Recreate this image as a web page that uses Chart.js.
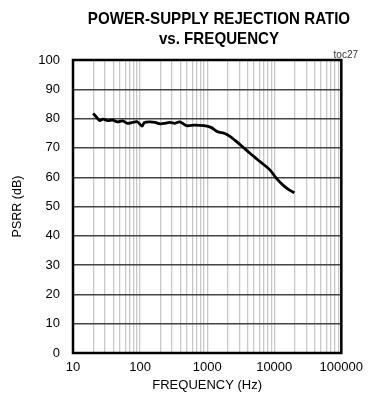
<!DOCTYPE html>
<html>
<head>
<meta charset="utf-8">
<script src="https://cdn.jsdelivr.net/npm/chart.js@4"></script>
<style>
  html, body { margin: 0; padding: 0; background: #fff; }
  #wrap { width: 370px; height: 402px; }
</style>
</head>
<body>
<div id="wrap"><canvas id="chart"></canvas></div>
<script>
// PSRR vs frequency
const freqHz = [20, 22, 25, 28, 33, 39, 46, 55, 65, 77, 91, 107, 116, 142, 168, 199, 236, 279, 331, 392,
  490, 650, 900, 1140, 1430, 1790, 2240, 3140, 4390, 6140, 8610, 10800, 13500, 16900, 20000];
const psrrDb = [81.8, 80.7, 79.3, 79.8, 79.3, 79.5, 78.9, 79.2, 78.4, 78.7, 78.9, 77.4, 78.7, 78.9, 78.7, 78.2, 78.4, 78.7, 78.4, 78.9,
  77.6, 77.8, 77.6, 77.0, 75.5, 75.0, 73.8, 71.0, 68.1, 65.3, 62.5, 59.6, 57.3, 55.6, 54.7];

const xDecades = [10, 100, 1000, 10000, 100000];
const yMin = 0, yMax = 100, yStep = 10;
const titleLines = ["POWER-SUPPLY REJECTION RATIO", "vs. FREQUENCY"];
const tocLabel = "toc27";
const xTitle = "FREQUENCY (Hz)";
const yTitle = "PSRR (dB)";

const FONT = "'Liberation Sans', Arial, sans-serif";

// grid positions: every 1..9 multiple inside each decade
const xGrid = [];
xDecades.forEach((d, i) => {
  if (i === xDecades.length - 1) { xGrid.push(d); return; }
  for (let m = 1; m < 10; m++) xGrid.push(d * m);
});

const frame = {
  id: "frame",
  afterDraw(chart) {
    const { ctx, chartArea: a } = chart;
    ctx.save();
    ctx.strokeStyle = "#000";
    ctx.lineWidth = 2.5;
    ctx.strokeRect(a.left, a.top, a.right - a.left, a.bottom - a.top);

    // title is a condensed bold face in the original, squeeze it a bit
    ctx.save();
    ctx.fillStyle = "#000";
    ctx.font = "bold 17px " + FONT;
    ctx.textAlign = "center";
    ctx.textBaseline = "middle";
    ctx.translate(219, 0);
    ctx.scale(0.89, 1);
    ctx.fillText(titleLines[0], 0, 19);
    ctx.fillText(titleLines[1], 0, 39);
    ctx.restore();

    ctx.font = "10px " + FONT;
    ctx.fillStyle = "#333";
    ctx.textAlign = "right";
    ctx.textBaseline = "alphabetic";
    ctx.fillText(tocLabel, 358, 58);
    ctx.restore();
  },
};

new Chart(document.getElementById("chart"), {
  type: "line",
  data: {
    datasets: [{
      data: freqHz.map((f, i) => ({ x: f, y: psrrDb[i] })),
      borderColor: "#000",
      borderWidth: 2.8,
      pointRadius: 0,
      tension: 0.3,
      fill: false,
    }],
  },
  options: {
    responsive: true,
    maintainAspectRatio: false,
    animation: false,
    layout: { padding: { top: 60, right: 24, left: 0, bottom: 0 } },
    plugins: { legend: { display: false }, tooltip: { enabled: false } },
    scales: {
      x: {
        type: "logarithmic",
        min: 10,
        max: 100000,
        afterBuildTicks: (s) => { s.ticks = xGrid.map((v) => ({ value: v })); },
        afterFit: (s) => { s.height = 49; },
        ticks: {
          autoSkip: false,
          maxRotation: 0,
          padding: 7,
          color: "#000",
          font: { family: FONT, size: 13 },
          callback: (v) => (xDecades.includes(v) ? String(v) : ""),
        },
        grid: { color: "#c8c8c8", lineWidth: 1.3, drawTicks: false },
        border: { display: false },
        title: {
          display: true,
          text: xTitle,
          color: "#000",
          font: { family: FONT, size: 13 },
          padding: { top: 0, bottom: 9 },
        },
      },
      y: {
        min: yMin,
        max: yMax,
        afterFit: (s) => { s.width = 73; },
        ticks: {
          stepSize: yStep,
          padding: 13,
          color: "#000",
          font: { family: FONT, size: 13 },
        },
        grid: { color: "#444", lineWidth: 1.4, drawTicks: false },
        border: { display: false },
        title: {
          display: true,
          text: yTitle,
          color: "#000",
          font: { family: FONT, size: 12.5 },
          padding: { top: 10, bottom: 0 },
        },
      },
    },
  },
  plugins: [frame],
});
</script>
</body>
</html>
